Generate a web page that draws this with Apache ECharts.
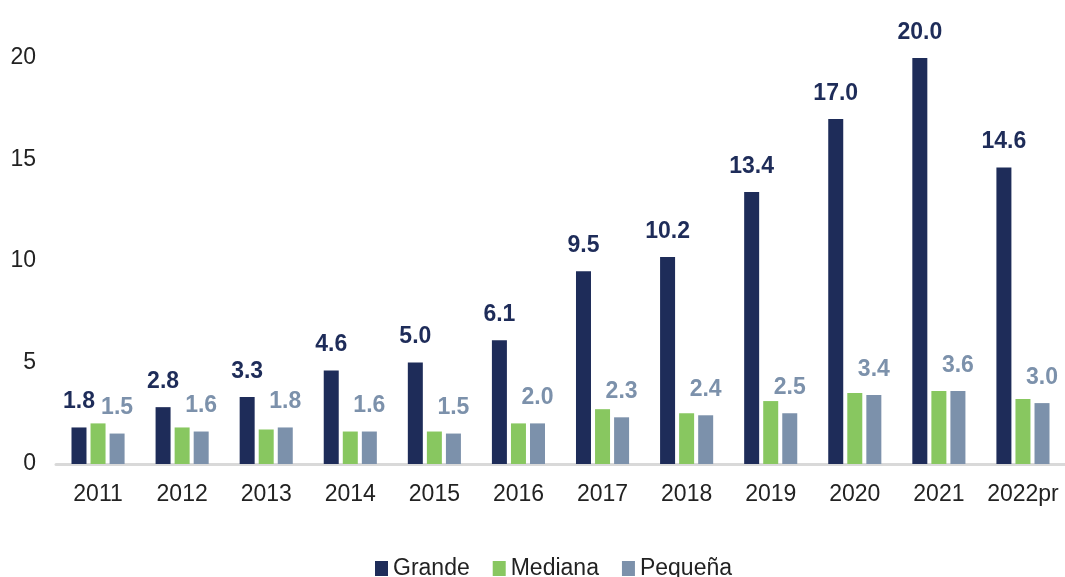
<!DOCTYPE html>
<html>
<head>
<meta charset="utf-8">
<script src="https://cdn.jsdelivr.net/npm/echarts@6/dist/echarts.min.js"></script>
<style>
  html, body { margin: 0; padding: 0; background: #fff; }
  #chart { width: 1065px; height: 577px; }
</style>
</head>
<body>
<div id="chart"></div>
<script>
// datos
var years = ['2011', '2012', '2013', '2014', '2015', '2016', '2017', '2018', '2019', '2020', '2021', '2022pr'];
var grande = [1.8, 2.8, 3.3, 4.6, 5.0, 6.1, 9.5, 10.2, 13.4, 17.0, 20.0, 14.6];
var mediana = [2.0, 1.8, 1.7, 1.6, 1.6, 2.0, 2.7, 2.5, 3.1, 3.5, 3.6, 3.2];
var pequena = [1.5, 1.6, 1.8, 1.6, 1.5, 2.0, 2.3, 2.4, 2.5, 3.4, 3.6, 3.0];

var fuente = '"Liberation Sans", Arial, sans-serif';

var myChart = echarts.init(document.getElementById('chart'));

function valueLabel(color) {
    return {
        show: true,
        position: 'top',
        distance: 14,
        color: color,
        fontFamily: fuente,
        fontWeight: 'bold',
        fontSize: 23,
        formatter: function (p) { return p.value.toFixed(1); }
    };
}

var option = {
    animation: false,
    backgroundColor: '#ffffff',
    grid: {
        left: 56,
        right: -3,
        top: 58,
        bottom: 113
    },
    legend: {
        top: 552,
        left: 370,
        icon: 'rect',
        itemWidth: 13,
        itemHeight: 15,
        itemGap: 23,
        textStyle: { fontFamily: fuente, fontSize: 23, color: '#222' },
        data: ['Grande', 'Mediana', 'Pequeña']
    },
    xAxis: {
        type: 'category',
        data: years,
        axisLine: { lineStyle: { color: '#d9d9d9', width: 3 } },
        axisTick: { show: false },
        axisLabel: { interval: 0, fontFamily: fuente, fontSize: 23, color: '#222', margin: 19 }
    },
    yAxis: {
        type: 'value',
        min: 0,
        max: 20,
        interval: 5,
        axisLine: { show: false },
        axisTick: { show: false },
        splitLine: { show: false },
        axisLabel: { fontFamily: fuente, fontSize: 23, color: '#222', margin: 20 }
    },
    series: [
        {
            name: 'Grande',
            type: 'bar',
            data: grande,
            barWidth: 15,
            barGap: '27%',
            itemStyle: { color: '#1e2c59' },
            label: valueLabel('#1e2c59')
        },
        {
            name: 'Mediana',
            type: 'bar',
            data: mediana,
            barWidth: 15,
            barGap: '27%',
            itemStyle: { color: '#88c760' }
        },
        {
            name: 'Pequeña',
            type: 'bar',
            data: pequena,
            barWidth: 15,
            barGap: '27%',
            itemStyle: { color: '#7c91ab' },
            label: valueLabel('#7c91ab')
        }
    ]
};

myChart.setOption(option);
</script>
</body>
</html>
